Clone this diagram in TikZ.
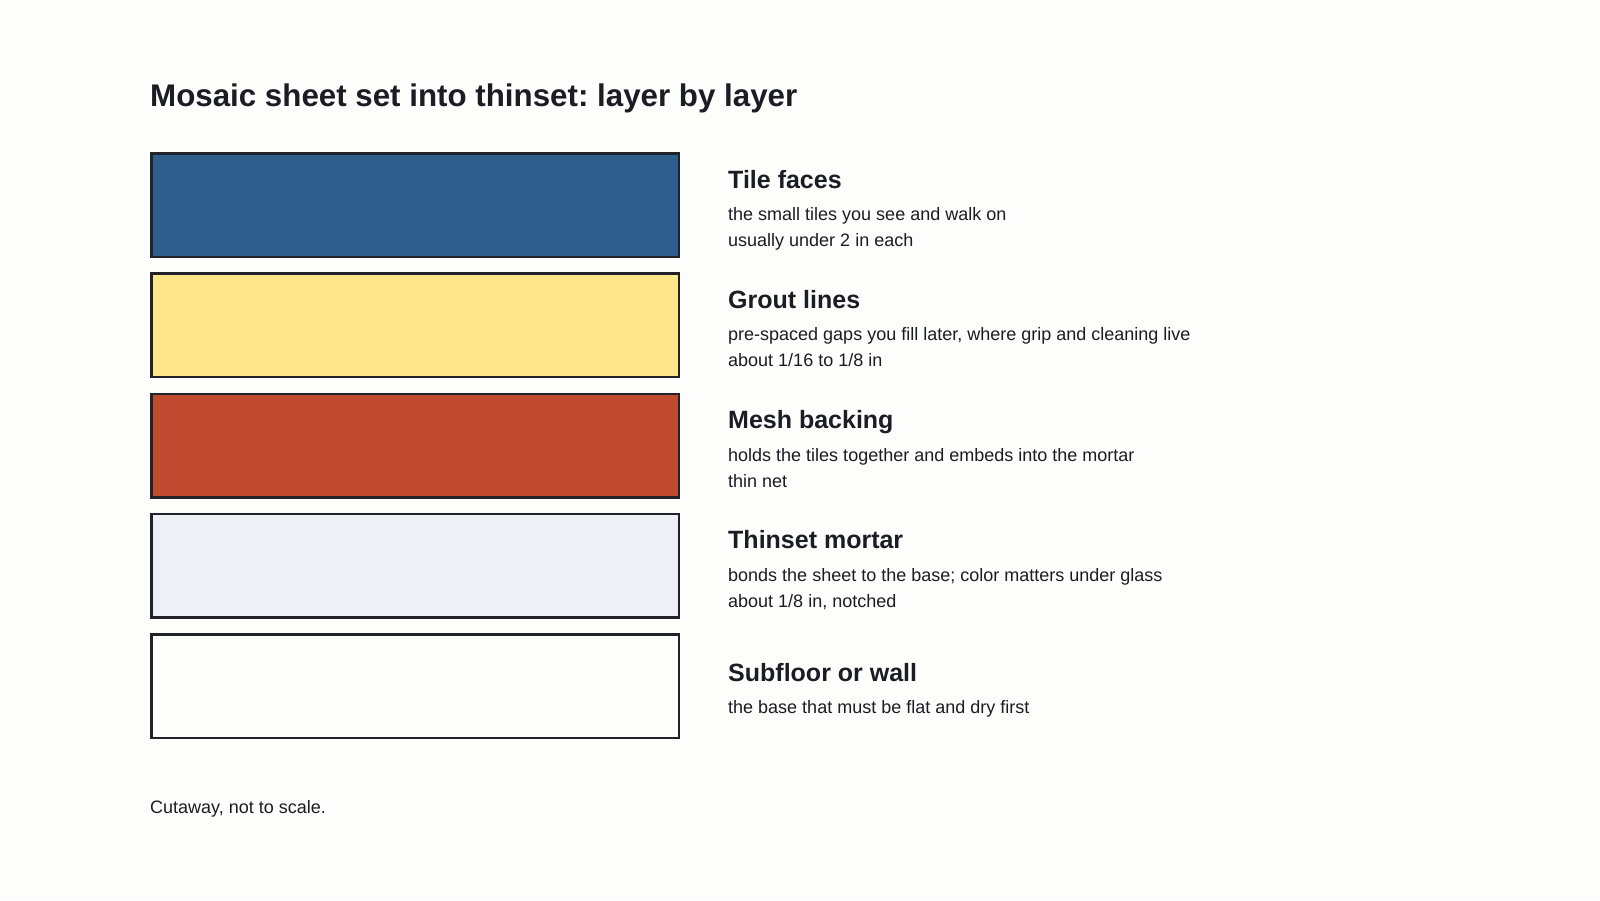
\documentclass[tikz,border=0pt]{standalone}
\usepackage{fontspec}
\setmainfont{Liberation Sans}
\frenchspacing
\definecolor{bgc}{HTML}{FDFDFB}
\definecolor{ink}{HTML}{1C1C24}
\definecolor{edge}{HTML}{22222A}
\definecolor{tileblue}{HTML}{2F5E8C}
\definecolor{groutyellow}{HTML}{FFE68A}
\definecolor{meshred}{HTML}{C04A30}
\definecolor{mortargray}{HTML}{EDF1F5}
\definecolor{basewhite}{HTML}{FDFDFB}
\tikzset{
  layerbox/.style={draw=edge, line width=2.5pt, minimum width=527.5pt, minimum height=103.5pt, inner sep=0pt},
  headtext/.style={anchor=base west, inner sep=0pt, text=ink, font=\fontsize{25}{29}\selectfont\bfseries\frenchspacing},
  subtext/.style={anchor=base west, inner sep=0pt, text=ink, font=\fontsize{18}{22}\selectfont\frenchspacing},
  titletext/.style={anchor=base west, inner sep=0pt, text=ink, font=\fontsize{31.3}{37}\selectfont\bfseries\frenchspacing},
}
\begin{document}
\begin{tikzpicture}[x=1pt,y=-1pt]
\fill[bgc] (0,0) rectangle (1600,900);
\useasboundingbox (0,0) rectangle (1600,900);
\node[titletext] (title) at (150,106.5) {Mosaic sheet set into thinset: layer by layer};
% layers
\node[layerbox, fill=tileblue] (b1) at (415,205) {};
\node[layerbox, fill=groutyellow] (b2) at (415,325.3) {};
\node[layerbox, fill=meshred] (b3) at (415,445.6) {};
\node[layerbox, fill=mortargray] (b4) at (415,565.9) {};
\node[layerbox, fill=basewhite] (b5) at (415,686.2) {};
% labels
\node[headtext] (h1) at (728,188) {Tile faces};
\node[subtext] (s1a) at (728,220.5) {the small tiles you see and walk on};
\node[subtext] (s1b) at (728,246.5) {usually under 2 in each};
\node[headtext] (h2) at (728,308.3) {Grout lines};
\node[subtext] (s2a) at (728,340.8) {pre-spaced gaps you fill later, where grip and cleaning live};
\node[subtext] (s2b) at (728,366.8) {about 1/16 to 1/8 in};
\node[headtext] (h3) at (728,428.6) {Mesh backing};
\node[subtext] (s3a) at (728,461) {holds the tiles together and embeds into the mortar};
\node[subtext] (s3b) at (728,487) {thin net};
\node[headtext] (h4) at (728,548.9) {Thinset mortar};
\node[subtext] (s4a) at (728,581.3) {bonds the sheet to the base; color matters under glass};
\node[subtext] (s4b) at (728,607.3) {about 1/8 in, notched};
\node[headtext] (h5) at (728,681.5) {Subfloor or wall};
\node[subtext] (s5a) at (728,713) {the base that must be flat and dry first};
\node[subtext] (note) at (150,813) {Cutaway, not to scale.};
\end{tikzpicture}
\end{document}
